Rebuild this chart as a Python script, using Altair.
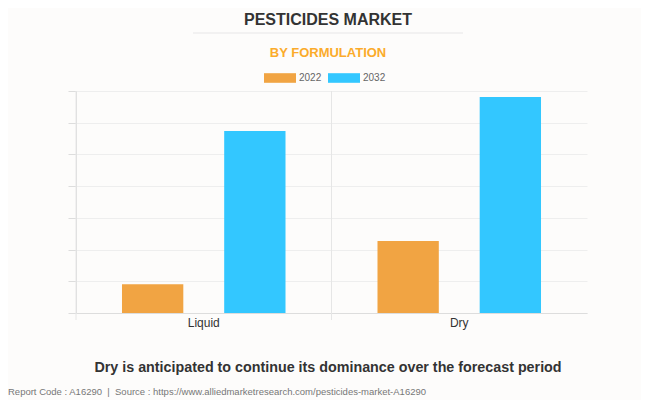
import altair as alt
import pandas as pd

categories = ["Liquid", "Liquid", "Dry", "Dry"]
years = ["2022", "2032", "2022", "2032"]
values = [0.91, 5.74, 2.27, 6.81]
cat_order = ["Liquid", "Dry"]
year_order = ["2022", "2032"]
colors = ["#f1a443", "#33c7ff"]

df = pd.DataFrame({"cat": categories, "year": years, "value": values})
cats_df = pd.DataFrame({"cat": cat_order})

W, H = 511, 222
NB = "\u00a0"

xscale = alt.Scale(domain=cat_order, paddingInner=0, paddingOuter=0)

bars = alt.Chart(df).mark_bar().encode(
    x=alt.X("cat:N", scale=xscale, sort=cat_order,
            axis=alt.Axis(title=None, labelAngle=0, labelAlign="center", ticks=False, grid=False,
                          domainColor="#dddddd", labelFont="Liberation Sans",
                          labelFontSize=12, labelColor="#333333", labelPadding=9)),
    xOffset=alt.XOffset("year:N", sort=year_order,
                        scale=alt.Scale(paddingInner=0.4, paddingOuter=0.45)),
    y=alt.Y("value:Q", scale=alt.Scale(domain=[0, 7], nice=False),
            axis=alt.Axis(title=None, labels=False, tickCount=7, gridColor="#eeeeee",
                          tickColor="#dddddd", tickSize=8, domainColor="#dddddd")),
    color=alt.Color("year:N", sort=year_order,
                    scale=alt.Scale(domain=year_order, range=colors),
                    legend=alt.Legend(title=None, orient="none", legendX=188, legendY=-29,
                                      direction="horizontal",
                                      symbolType="M-1,-0.3H1V0.3H-1Z", symbolSize=1024,
                                      symbolStrokeWidth=0, labelFont="Liberation Sans",
                                      labelFontSize=10, labelColor="#666666",
                                      labelOffset=3, columnPadding=6, padding=0)),
)

vgrid = alt.Chart(cats_df).mark_rule(color="#e6e6e6", strokeWidth=1).encode(
    x=alt.X("cat:N", scale=xscale, sort=cat_order, bandPosition=0),
    y=alt.value(0), y2=alt.value(H + 7),
)

one = cats_df.head(1)

title = alt.Chart(one).mark_text(
    text="PESTICIDES MARKET", font="Liberation Sans", fontWeight="bold",
    fontSize=16, color="#333333", baseline="middle", align="center"
).encode(x=alt.value(252), y=alt.value(-71))

sep = alt.Chart(one).mark_rule(color="#eeeeee", strokeWidth=1.5).encode(
    x=alt.value(117), x2=alt.value(387), y=alt.value(-58))

subtitle = alt.Chart(one).mark_text(
    text="BY FORMULATION", font="Liberation Sans", fontWeight="bold",
    fontSize=13, color="#fbab2b", baseline="middle", align="center"
).encode(x=alt.value(252), y=alt.value(-38))

bottom = alt.Chart(one).mark_text(
    text="Dry is anticipated to continue its dominance over the forecast period",
    font="Liberation Sans", fontWeight="bold", fontSize=14.3, color="#333333",
    baseline="middle", align="center"
).encode(x=alt.value(252), y=alt.value(277))

footer = alt.Chart(one).mark_text(
    text=f"Report Code : A16290 {NB}|{NB} Source : https://www.alliedmarketresearch.com/pesticides-market-A16290",
    font="Liberation Sans", fontSize=9.5, color="#777777",
    baseline="middle", align="left"
).encode(x=alt.value(-68), y=alt.value(301))

chart = alt.layer(vgrid, bars, title, sep, subtitle, bottom, footer).properties(
    width=W, height=H,
    autosize=alt.AutoSizeParams(type="none"),
    padding={"left": 68, "top": 83, "right": 54, "bottom": 87},
    background="#fdfcfb",
).configure_view(stroke=None)

chart.save("out.html", embed_options={"renderer": "svg", "actions": False})
